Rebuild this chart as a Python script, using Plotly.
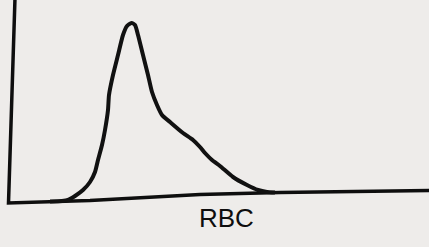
import plotly.graph_objects as go

# RBC size-distribution curve (channel position, relative count)
rbc_channel = [50, 62, 68, 75, 83, 90, 95, 98, 102, 105, 108, 109, 113, 118, 123, 127,
               131.5, 135, 138, 143, 148, 152, 157, 162, 170, 183, 193, 200, 205, 212,
               220, 233, 247, 258, 267, 275]
rbc_count = [1.5, 2, 3, 7, 13, 21, 31, 43, 58, 73, 93, 108, 128, 148, 168, 177,
             180, 178, 168, 148, 128, 111, 98, 88, 81, 70, 63, 56, 50, 43,
             37, 26, 18, 13, 11, 10.5]

# hand-drawn axis frame (slightly skewed in the photo)
frame_x = [15, 8.5, 90, 200, 280, 405, 432]
frame_y = [205, 0, 2.5, 8.5, 10.5, 12.3, 12.5]

axis_label = "RBC"

fig = go.Figure()
fig.add_trace(go.Scatter(x=frame_x, y=frame_y, mode="lines",
                         line=dict(color="#0e0e0e", width=3.5), hoverinfo="skip"))
fig.add_trace(go.Scatter(x=rbc_channel, y=rbc_count, mode="lines",
                         line=dict(color="#111111", width=4, shape="spline", smoothing=0.6),
                         hoverinfo="skip"))
fig.add_annotation(x=226, y=-15, text=axis_label, showarrow=False,
                   font=dict(family="Arial, Liberation Sans, sans-serif", size=26, color="#0e0e0e"),
                   xanchor="center", yanchor="middle")

fig.update_layout(
    width=429, height=247,
    margin=dict(l=0, r=0, t=0, b=0),
    paper_bgcolor="#eeecea", plot_bgcolor="#eeecea",
    showlegend=False,
    xaxis=dict(range=[0, 429], visible=False, fixedrange=True),
    yaxis=dict(range=[-44, 203], visible=False, fixedrange=True),
)
fig.write_html("out.html", config={"displayModeBar": False},
               post_script="document.body.style.margin='0';document.body.style.background='#eeecea';")
